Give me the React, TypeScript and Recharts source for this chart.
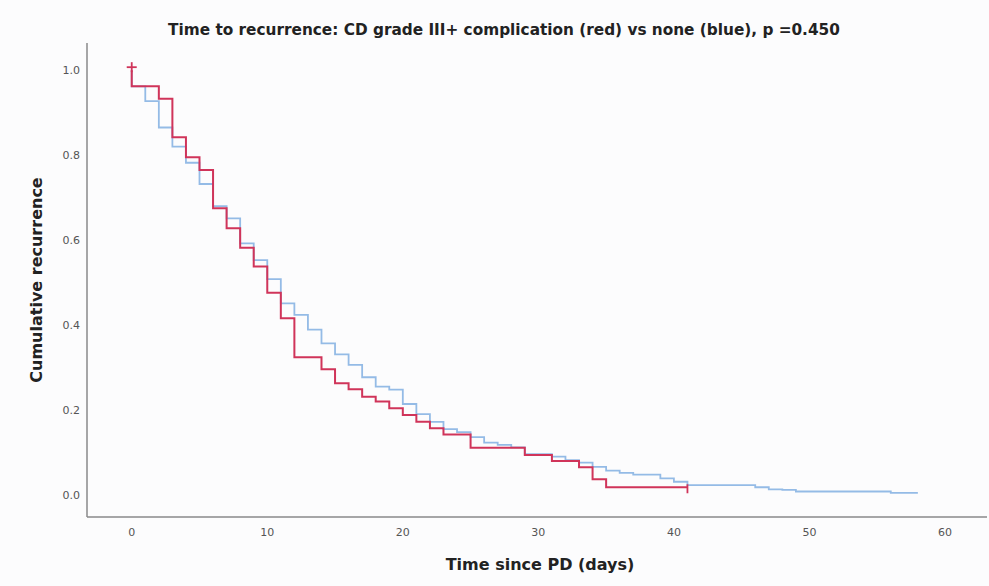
import React from 'react';
import {
  LineChart, Line, XAxis, YAxis, Scatter,
} from 'recharts';

// time (days) and cumulative recurrence
const redTimes = [0, 0, 2, 3, 4, 5, 6, 7, 8, 9, 10, 11, 12, 14, 15, 16, 17, 18, 19, 20, 21, 22, 23, 25, 29, 31, 33, 34, 35, 41];
const redValues = [1.0, 0.962, 0.933, 0.842, 0.795, 0.765, 0.675, 0.628, 0.582, 0.538, 0.476, 0.416, 0.324, 0.296, 0.263, 0.249, 0.231, 0.22, 0.204, 0.188, 0.172, 0.157, 0.142, 0.111, 0.094, 0.08, 0.065, 0.037, 0.018, 0.018];

const blueTimes = [0, 0, 1, 2, 3, 4, 5, 6, 7, 8, 9, 10, 11, 12, 13, 14, 15, 16, 17, 18, 19, 20, 21, 22, 23, 24, 25, 26, 27, 28, 29, 31, 32, 33, 34, 35, 36, 37, 39, 40, 41, 46, 47, 48, 49, 56, 58];
const blueValues = [1.0, 0.962, 0.927, 0.865, 0.82, 0.782, 0.732, 0.68, 0.651, 0.592, 0.553, 0.508, 0.451, 0.424, 0.389, 0.357, 0.331, 0.306, 0.277, 0.255, 0.248, 0.214, 0.19, 0.172, 0.155, 0.148, 0.136, 0.123, 0.118, 0.112, 0.096, 0.09, 0.082, 0.076, 0.066, 0.057, 0.052, 0.048, 0.039, 0.031, 0.023, 0.018, 0.013, 0.012, 0.008, 0.005, 0.005];

// censored observations (red group): start and last follow-up
const censorStartTimes = [0];
const censorStartValues = [1.0];
const censorEndTimes = [41];
const censorEndValues = [0.018];

const xTicks = [0, 10, 20, 30, 40, 50, 60];
const yTicks = [0, 0.2, 0.4, 0.6, 0.8, 1.0];

const RED = '#d0345a';
const BLUE = '#94bbe6';
const FONT = '"DejaVu Sans", Verdana, sans-serif';

const redData = redTimes.map((t, i) => ({ t, v: redValues[i] }));
const blueData = blueTimes.map((t, i) => ({ t, v: blueValues[i] }));
const censorStart = censorStartTimes.map((t, i) => ({ t, v: censorStartValues[i] }));
const censorEnd = censorEndTimes.map((t, i) => ({ t, v: censorEndValues[i] }));

const Plus = (props: any) => {
  const { cx, cy } = props;
  return (
    <g stroke={RED} strokeWidth={1.8}>
      <line x1={cx - 5} x2={cx + 5} y1={cy - 3} y2={cy - 3} />
      <line x1={cx} x2={cx} y1={cy - 8} y2={cy + 2} />
    </g>
  );
};

const Tick = (props: any) => {
  const { cx, cy } = props;
  return <line x1={cx} x2={cx} y1={cy - 3} y2={cy + 6} stroke={RED} strokeWidth={1.8} />;
};

export default function App() {
  return (
    <div style={{ position: 'absolute', left: 0, top: 0, width: 989, height: 586, background: '#fcfcfd', fontFamily: FONT }}>
      <div style={{ position: 'absolute', top: 21, left: 0, width: 1008, textAlign: 'center', fontSize: 15.3, fontWeight: 700, color: '#222' }}>
        Time to recurrence: CD grade III+ complication (red) vs none (blue), p =0.450
      </div>
      <div style={{
        position: 'absolute', left: 36, top: 280, transform: 'translate(-50%, -50%) rotate(-90deg)',
        fontSize: 16, fontWeight: 700, color: '#222', whiteSpace: 'nowrap',
      }}>
        Cumulative recurrence
      </div>
      <div style={{ position: 'absolute', top: 555, left: 390, width: 300, textAlign: 'center', fontSize: 16, fontWeight: 700, color: '#222' }}>
        Time since PD (days)
      </div>
      <LineChart
        width={989}
        height={586}
        margin={{ top: 43, right: 2, left: 0, bottom: 39 }}
        style={{ position: 'absolute', left: 0, top: 0 }}
      >
        <XAxis
          type="number"
          dataKey="t"
          domain={[-3.3, 63.1]}
          ticks={xTicks}
          allowDataOverflow
          height={30}
          tickSize={0}
          tickMargin={11}
          tickLine={false}
          axisLine={{ stroke: '#8a8a8a', strokeWidth: 1.5 }}
          tick={{ fontSize: 11, fill: '#555', fontFamily: FONT }}
        />
        <YAxis
          type="number"
          dataKey="v"
          domain={[-0.052, 1.064]}
          ticks={yTicks}
          allowDataOverflow
          width={87}
          tickSize={0}
          tickMargin={7}
          tickLine={false}
          tickFormatter={(v: number) => v.toFixed(1)}
          axisLine={{ stroke: '#8a8a8a', strokeWidth: 1.5 }}
          tick={{ fontSize: 11, fill: '#555', fontFamily: FONT }}
        />
        <Line
          data={blueData}
          dataKey="v"
          type="stepAfter"
          stroke={BLUE}
          strokeWidth={1.8}
          dot={false}
          isAnimationActive={false}
        />
        <Line
          data={redData}
          dataKey="v"
          type="stepAfter"
          stroke={RED}
          strokeWidth={2}
          dot={false}
          isAnimationActive={false}
        />
        <Scatter data={censorStart} dataKey="v" shape={<Plus />} isAnimationActive={false} />
        <Scatter data={censorEnd} dataKey="v" shape={<Tick />} isAnimationActive={false} />
      </LineChart>
    </div>
  );
}
